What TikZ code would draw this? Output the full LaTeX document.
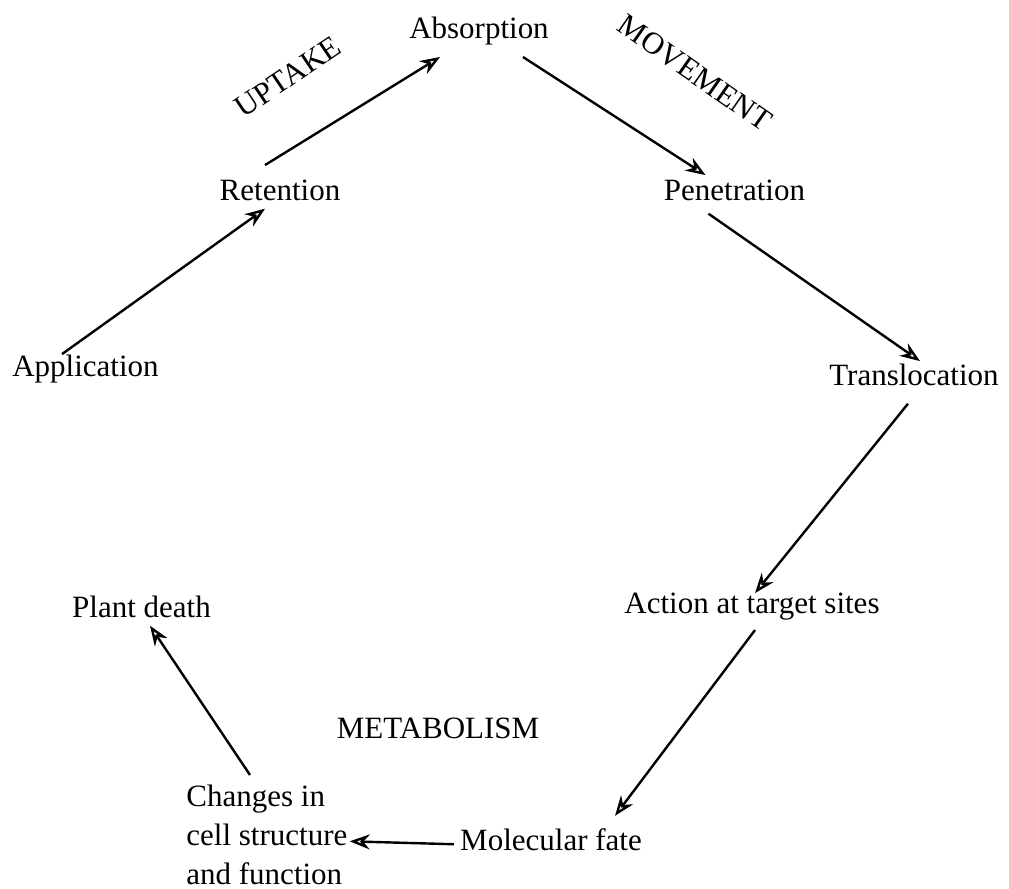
\documentclass[tikz,border=0pt]{standalone}
\usepackage{fontspec}
\setmainfont{Liberation Serif}
\usetikzlibrary{arrows.meta,calc}

\begin{document}
\begin{tikzpicture}[x=0.5pt,y=-0.5pt,
    lbl/.style={inner sep=0pt,anchor=base,font=\fontsize{15.5}{19.5}\selectfont},
    flow/.style={-{Stealth[open,length=10pt,width=7.5pt]},line width=1.2pt}]
  \useasboundingbox (0,0) rectangle (1009,889);
  \node[lbl] (abs) at (479,38) {Absorption};
  \node[lbl] (ret) at (280,200) {Retention};
  \node[lbl] (pen) at (734.5,200) {Penetration};
  \node[lbl] (app) at (85.5,376) {Application};
  \node[lbl] (tra) at (914,385) {Translocation};
  \node[lbl] (act) at (752,613) {Action at target sites};
  \node[lbl] (pla) at (141.5,617) {Plant death};
  \node[lbl] (met) at (438,738) {METABOLISM};
  \node[lbl] (mol) at (551,850) {Molecular fate};
  \node[lbl,anchor=north west,align=left] (chg) at (186,785) {Changes in\\cell structure\\and function};
  \node[lbl,anchor=center,rotate=34] (upt) at (288,77) {UPTAKE};
  \node[lbl,anchor=center,rotate=-35] (mov) at (695,73) {MOVEMENT};
  \draw[flow] ($(app.north)+(-23.5,0)$) -- ($(ret.south)+(-15,8)$);
  \draw[flow] ($(ret.north)+(-15,-14)$) -- ($(abs.south)+(-39,12)$);
  \draw[flow] ($(abs.south)+(44,12)$) -- ($(pen.north)+(-29,-4)$);
  \draw[flow] ($(pen.south)+(-26,13)$) -- ($(tra.north)+(6,-2)$);
  \draw[flow] ($(tra.south)+(-6,18)$) -- ($(act.north)+(3,1)$);
  \draw[flow] ($(act.south)+(3,10)$) -- ($(mol.north)+(64,-12)$);
  \draw[flow] ($(mol.west)+(-6,5)$) -- ($(chg.east)+(2,6)$);
  \draw[flow] ($(chg.north west)+(64,-10)$) -- ($(pla.south)+(8.5,8)$);
\end{tikzpicture}
\end{document}
